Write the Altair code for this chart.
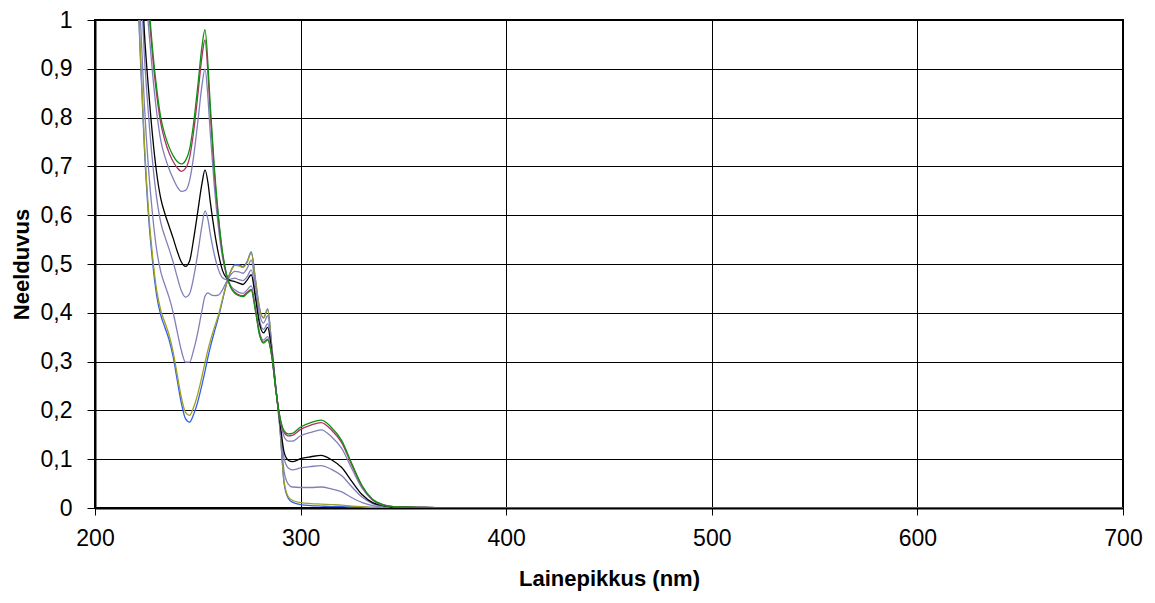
import altair as alt
import pandas as pd

wavelength = [220, 222, 224, 226, 228, 230, 232, 234, 236, 238, 240, 242, 244, 246, 248, 250, 252, 253.5, 255, 256,
              258, 260, 262, 264, 266, 268, 270, 272, 274, 276, 278, 280, 282, 284, 286, 288, 290, 292, 294, 296,
              300, 305, 310, 315, 320, 325, 330, 335, 340, 345, 350, 360, 380, 400, 450, 500, 550, 600, 650, 700]

blue = [1.15, 0.93, 0.74, 0.60, 0.505, 0.435, 0.395, 0.37, 0.345, 0.31, 0.262, 0.215, 0.183, 0.176, 0.192, 0.218, 0.252, 0.28, 0.31, 0.328,
        0.36, 0.39, 0.425, 0.46, 0.485, 0.498, 0.498, 0.495, 0.505, 0.525, 0.47, 0.41, 0.39, 0.408, 0.33, 0.245, 0.16, 0.05, 0.02, 0.012,
        0.007, 0.005, 0.004, 0.003, 0.003, 0.002, 0.002, 0.001, 0.001, 0.001, 0.001, 0.0, 0.0, 0.0, 0.0, 0.0, 0.0, 0.0, 0.0, 0.0]

olive = [1.159, 0.939, 0.750, 0.611, 0.516, 0.446, 0.405, 0.380, 0.355, 0.320, 0.273, 0.227, 0.196, 0.190, 0.207, 0.234, 0.269, 0.298, 0.325, 0.341,
         0.369, 0.395, 0.428, 0.460, 0.484, 0.497, 0.496, 0.493, 0.503, 0.523, 0.468, 0.409, 0.389, 0.406, 0.330, 0.245, 0.161, 0.053, 0.023, 0.016,
         0.011, 0.009, 0.008, 0.007, 0.006, 0.004, 0.003, 0.001, 0.001, 0.001, 0.001, 0.0, 0.0, 0.0, 0.0, 0.0, 0.0, 0.0, 0.0, 0.0]

slate3 = [1.227, 1.011, 0.828, 0.697, 0.601, 0.529, 0.484, 0.457, 0.432, 0.401, 0.361, 0.323, 0.299, 0.299, 0.324, 0.360, 0.404, 0.434, 0.441, 0.438,
          0.435, 0.436, 0.447, 0.464, 0.478, 0.485, 0.484, 0.481, 0.491, 0.508, 0.456, 0.398, 0.379, 0.394, 0.326, 0.244, 0.166, 0.074, 0.049, 0.043,
          0.042, 0.042, 0.043, 0.039, 0.033, 0.021, 0.011, 0.005, 0.002, 0.001, 0.001, 0.0, 0.0, 0.0, 0.0, 0.0, 0.0, 0.0, 0.0, 0.0]

slate2 = [1.315, 1.104, 0.928, 0.807, 0.709, 0.635, 0.585, 0.556, 0.531, 0.504, 0.473, 0.445, 0.432, 0.439, 0.473, 0.522, 0.578, 0.609, 0.590, 0.564,
          0.520, 0.489, 0.472, 0.468, 0.469, 0.471, 0.468, 0.466, 0.474, 0.488, 0.439, 0.384, 0.366, 0.378, 0.321, 0.243, 0.172, 0.101, 0.082, 0.078,
          0.082, 0.085, 0.087, 0.079, 0.066, 0.043, 0.022, 0.009, 0.004, 0.002, 0.001, 0.001, 0.0, 0.0, 0.0, 0.0, 0.0, 0.0, 0.0, 0.0]

black = [1.357, 1.148, 0.976, 0.860, 0.762, 0.686, 0.634, 0.603, 0.578, 0.553, 0.526, 0.504, 0.495, 0.506, 0.552, 0.608, 0.664, 0.693, 0.665, 0.630,
         0.570, 0.522, 0.487, 0.471, 0.466, 0.464, 0.461, 0.458, 0.467, 0.478, 0.432, 0.378, 0.359, 0.370, 0.318, 0.242, 0.175, 0.114, 0.098, 0.095,
         0.101, 0.105, 0.108, 0.099, 0.083, 0.054, 0.027, 0.011, 0.005, 0.002, 0.002, 0.001, 0.0, 0.0, 0.0, 0.0, 0.0, 0.0, 0.0, 0.0]

slate1 = [1.460, 1.257, 1.094, 0.989, 0.890, 0.811, 0.753, 0.720, 0.695, 0.675, 0.658, 0.649, 0.651, 0.671, 0.721, 0.791, 0.865, 0.900, 0.837, 0.772,
          0.661, 0.576, 0.514, 0.476, 0.456, 0.447, 0.442, 0.440, 0.447, 0.455, 0.412, 0.361, 0.344, 0.351, 0.312, 0.241, 0.182, 0.146, 0.137, 0.137,
          0.148, 0.155, 0.160, 0.146, 0.122, 0.080, 0.040, 0.016, 0.006, 0.003, 0.002, 0.001, 0.0, 0.0, 0.0, 0.0, 0.0, 0.0, 0.0, 0.0]

maroon = [1.490, 1.289, 1.128, 1.027, 0.927, 0.847, 0.788, 0.753, 0.728, 0.710, 0.697, 0.690, 0.696, 0.718, 0.772, 0.846, 0.924, 0.959, 0.887, 0.815,
          0.690, 0.594, 0.522, 0.477, 0.453, 0.442, 0.437, 0.435, 0.442, 0.448, 0.407, 0.357, 0.340, 0.346, 0.311, 0.240, 0.184, 0.155, 0.148, 0.149,
          0.161, 0.170, 0.175, 0.160, 0.134, 0.087, 0.044, 0.017, 0.007, 0.003, 0.002, 0.001, 0.0, 0.0, 0.0, 0.0, 0.0, 0.0, 0.0, 0.0]

green = [1.50, 1.30, 1.14, 1.04, 0.94, 0.86, 0.80, 0.765, 0.74, 0.722, 0.71, 0.705, 0.712, 0.735, 0.79, 0.865, 0.945, 0.98, 0.905, 0.83,
         0.70, 0.60, 0.525, 0.478, 0.452, 0.44, 0.435, 0.433, 0.44, 0.446, 0.405, 0.355, 0.338, 0.344, 0.31, 0.24, 0.185, 0.158, 0.152, 0.153,
         0.166, 0.175, 0.18, 0.165, 0.138, 0.09, 0.045, 0.018, 0.007, 0.003, 0.002, 0.001, 0.0, 0.0, 0.0, 0.0, 0.0, 0.0, 0.0, 0.0]

series = [
    ("blue", blue, "#3060F0"),
    ("olive", olive, "#A0A020"),
    ("slate3", slate3, "#8080B8"),
    ("slate2", slate2, "#8080B8"),
    ("black", black, "#000000"),
    ("slate1", slate1, "#8080B8"),
    ("maroon", maroon, "#B03068"),
    ("green", green, "#109010"),
]

x_scale = alt.Scale(domain=[200, 700], nice=False, zero=False)
y_scale = alt.Scale(domain=[0, 1], nice=False)

x_axis = alt.Axis(values=[200, 300, 400, 500, 600, 700], title="Lainepikkus (nm)",
                  grid=True, gridColor="#000000", gridWidth=1, gridOpacity=1,
                  tickColor="#000000", tickSize=7, domainColor="#000000", domainWidth=2,
                  labelFont="Liberation Sans", labelFontSize=23, labelColor="#000000", labelPadding=12,
                  titleFont="Liberation Sans", titleFontSize=22, titleFontWeight="bold",
                  titleColor="#000000", titlePadding=18, labelFlush=False)
y_axis = alt.Axis(values=[0, 0.1, 0.2, 0.3, 0.4, 0.5, 0.6, 0.7, 0.8, 0.9, 1.0], title="Neelduvus",
                  labelExpr="datum.value == 0 ? '0' : (datum.value == 1 ? '1' : replace(format(datum.value, '.1f'), '.', ','))",
                  grid=True, gridColor="#000000", gridWidth=1, gridOpacity=1,
                  tickColor="#000000", tickSize=8, domainColor="#000000", domainWidth=2,
                  labelFont="Liberation Sans", labelFontSize=23, labelColor="#000000", labelPadding=15,
                  titleFont="Liberation Sans", titleFontSize=22, titleFontWeight="bold",
                  titleColor="#000000", titleX=-74, titleY=244, titleAngle=-90,
                  titleAlign="center", titleBaseline="middle", labelFlush=False)

layers = []
for name, vals, col in series:
    df = pd.DataFrame({"nm": wavelength, "A": vals})
    layers.append(
        alt.Chart(df).mark_line(color=col, strokeWidth=1.3, clip=True, interpolate="monotone").encode(
            x=alt.X("nm:Q", scale=x_scale, axis=x_axis),
            y=alt.Y("A:Q", scale=y_scale, axis=y_axis),
        )
    )

chart = alt.layer(*layers).properties(
    width=1028, height=488,
    background="white",
    autosize=alt.AutoSizeParams(type="none"),
    padding={"left": 87, "top": 12, "right": 22, "bottom": 85},
).configure_view(stroke="#000000", strokeWidth=2)

chart.save("out.html", embed_options={"renderer": "svg", "actions": False})
